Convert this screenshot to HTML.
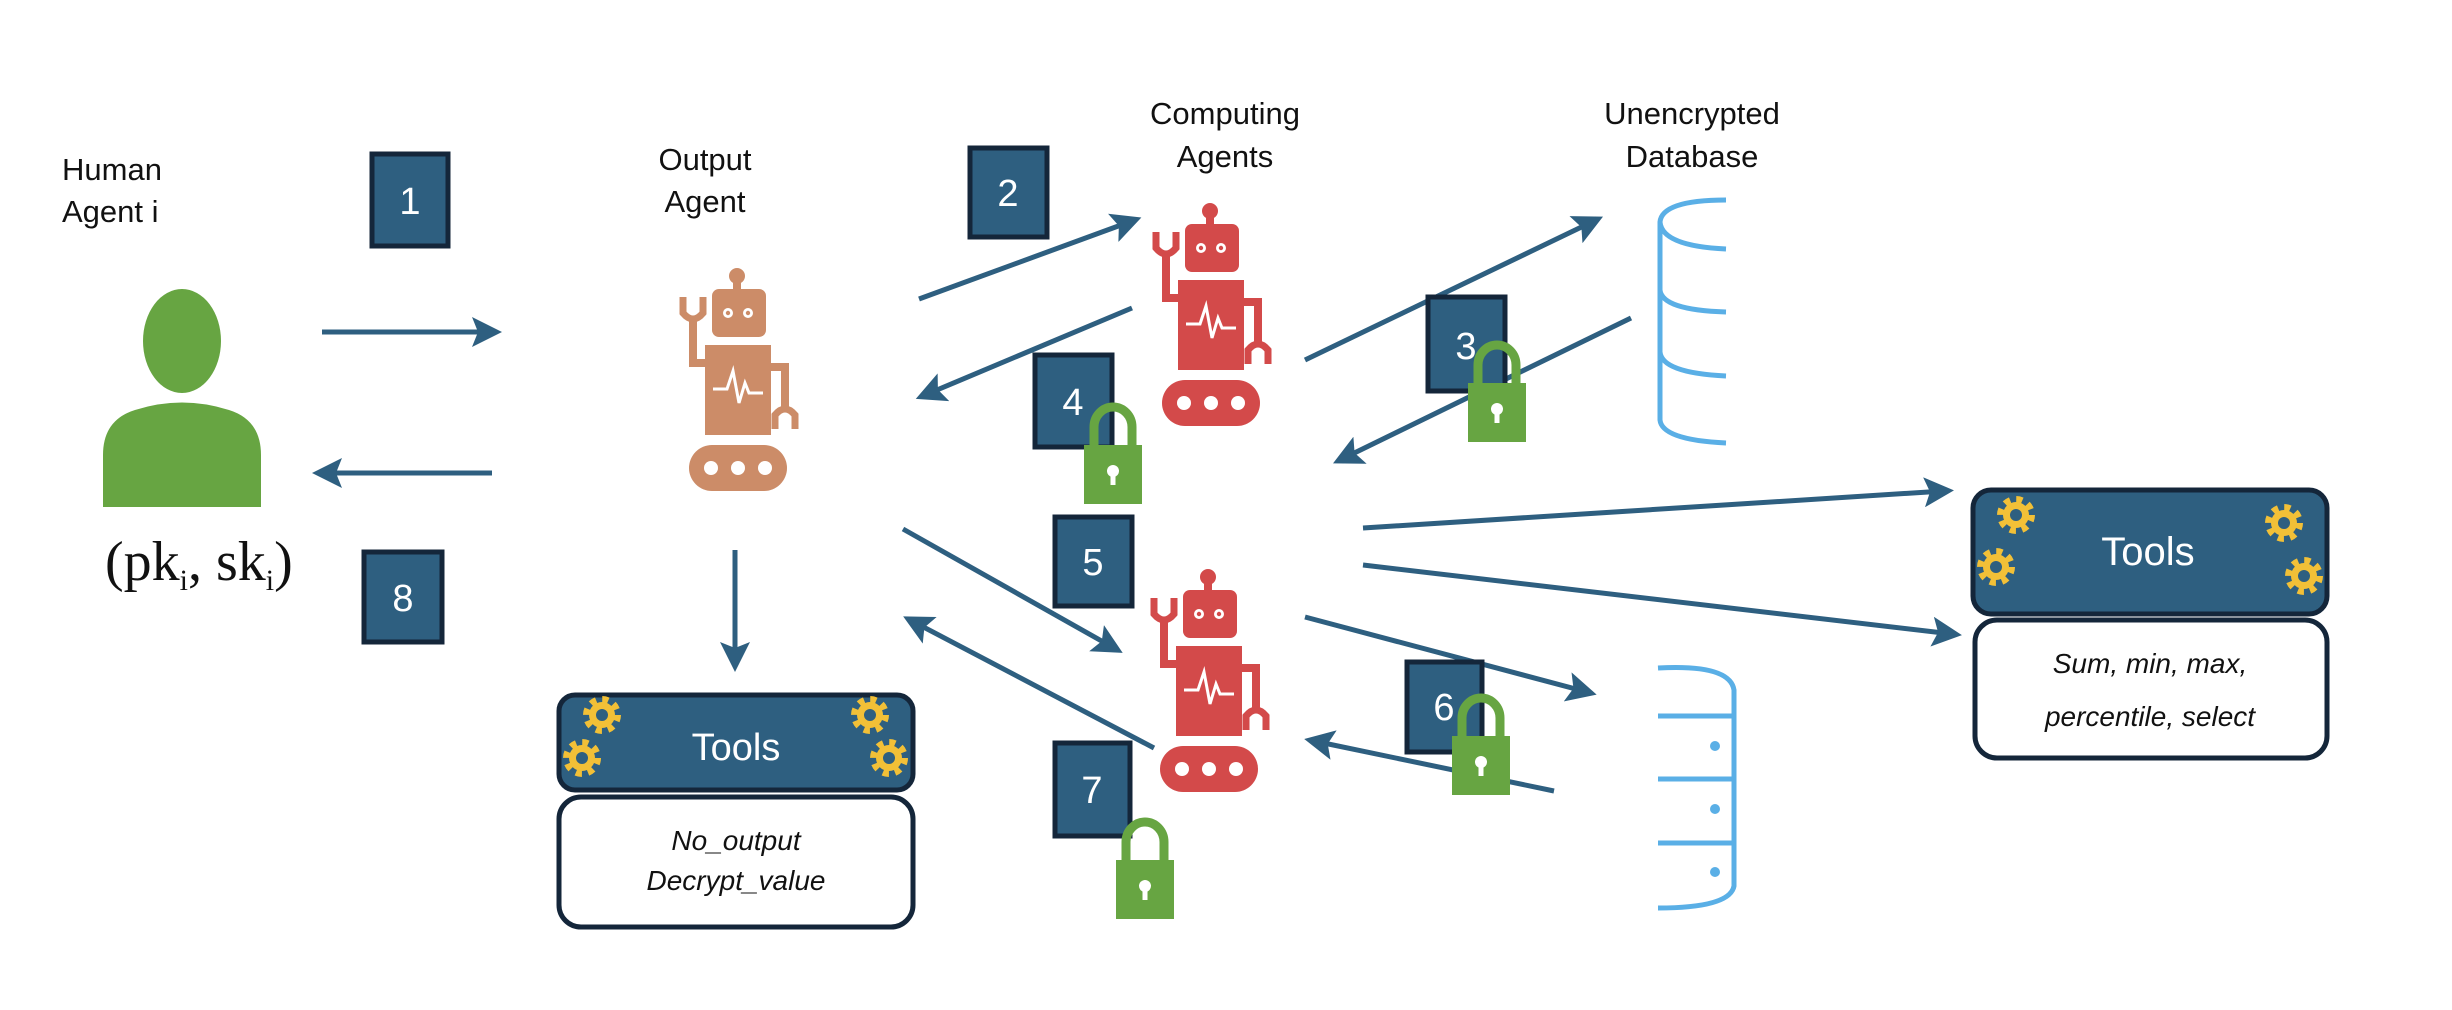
<!DOCTYPE html>
<html><head><meta charset="utf-8"><style>
html,body{margin:0;padding:0;background:#fff;}
svg{display:block;}
text{font-family:"Liberation Sans",sans-serif;}
text.serif{font-family:"Liberation Serif",serif;}
</style></head><body>
<svg width="2452" height="1010" viewBox="0 0 2452 1010" xmlns="http://www.w3.org/2000/svg">
<defs>
<marker id="ah" markerWidth="6" markerHeight="6" refX="4" refY="3" orient="auto" markerUnits="strokeWidth">
<path d="M0,0 L6,3 L0,6 L1.2,3 Z" fill="#2e5f80"/>
</marker>
<g id="robot">
 <circle cx="62" cy="9" r="8"/>
 <rect x="58" y="9" width="8" height="16"/>
 <rect x="37" y="22" width="54" height="48" rx="7"/>
 <circle cx="53" cy="46" r="5" fill="#fff"/><circle cx="53" cy="46" r="2.2"/>
 <circle cx="73" cy="46" r="5" fill="#fff"/><circle cx="73" cy="46" r="2.2"/>
 <rect x="30" y="78" width="66" height="90"/>
 <polyline points="38,122 52,122 58,104 64,136 70,116 74,126 88,126" fill="none" stroke="#fff" stroke-width="3"/>
 <path d="M30,96 L18,96 L18,50" fill="none" stroke="currentColor" stroke-width="8"/>
 <path d="M8,30 L8,46 Q18,58 28,46 L28,30" fill="none" stroke="currentColor" stroke-width="7"/>
 <path d="M96,100 L110,100 L110,140" fill="none" stroke="currentColor" stroke-width="8"/>
 <path d="M100,162 L100,148 Q110,136 120,148 L120,162" fill="none" stroke="currentColor" stroke-width="7"/>
 <rect x="14" y="178" width="98" height="46" rx="23"/>
 <circle cx="36" cy="201" r="7" fill="#fff"/><circle cx="63" cy="201" r="7" fill="#fff"/><circle cx="90" cy="201" r="7" fill="#fff"/>
</g>
<g id="lock">
 <path d="M10,50 L10,28 A19,20 0 0 1 48,28 L48,50" fill="none" stroke="#67a542" stroke-width="9"/>
 <rect x="0" y="46" width="58" height="59" fill="#67a542"/>
 <circle cx="29" cy="72" r="6" fill="#fff"/><rect x="26.5" y="72" width="5" height="14" fill="#fff"/>
</g>
<g id="gear">
 <circle r="15" fill="none" stroke="#f2c037" stroke-width="8" stroke-dasharray="5.9 5.9"/>
 <circle r="13" fill="#f2c037"/>
 <circle r="6" fill="#2e5f80"/>
</g>
</defs>

<!-- Human -->
<text x="62" y="180" font-size="31" fill="#111">Human</text>
<text x="62" y="222" font-size="31" fill="#111">Agent i</text>
<ellipse cx="182" cy="341" rx="39" ry="52" fill="#67a542"/>
<path d="M103,507 L103,455 Q103,420 135,410 Q182,395 229,410 Q261,420 261,455 L261,507 Z" fill="#67a542"/>
<text class="serif" x="105" y="580" font-size="56" fill="#111">(pk<tspan font-size="30" dy="10">i</tspan><tspan dy="-10">, sk</tspan><tspan font-size="30" dy="10">i</tspan><tspan dy="-10">)</tspan></text>

<!-- Output agent -->
<text x="705" y="170" font-size="31" fill="#111" text-anchor="middle">Output</text>
<text x="705" y="212" font-size="31" fill="#111" text-anchor="middle">Agent</text>
<g transform="translate(675,267)" fill="#cc8c68" color="#cc8c68"><use href="#robot"/></g>

<!-- Computing agents -->
<text x="1225" y="124" font-size="31" fill="#111" text-anchor="middle">Computing</text>
<text x="1225" y="167" font-size="31" fill="#111" text-anchor="middle">Agents</text>
<g transform="translate(1148,202)" fill="#d34a4a" color="#d34a4a"><use href="#robot"/></g>
<g transform="translate(1146,568)" fill="#d34a4a" color="#d34a4a"><use href="#robot"/></g>

<!-- Unencrypted DB -->
<text x="1692" y="124" font-size="31" fill="#111" text-anchor="middle">Unencrypted</text>
<text x="1692" y="167" font-size="31" fill="#111" text-anchor="middle">Database</text>
<g fill="none" stroke="#5aafe6" stroke-width="5">
 <path d="M1726,200 Q1662,200 1660,222 Q1662,246 1726,249"/>
 <path d="M1660,222 L1660,420 Q1662,440 1726,443"/>
 <path d="M1660,290 Q1662,310 1726,312"/>
 <path d="M1660,352 Q1662,373 1726,376"/>
</g>
<!-- DB2 -->
<g fill="none" stroke="#5aafe6" stroke-width="5">
 <path d="M1658,668 Q1730,664 1734,690 L1734,886 Q1730,908 1658,908"/>
 <path d="M1658,716 L1734,716"/>
 <path d="M1658,779 L1734,779"/>
 <path d="M1658,843 L1734,843"/>
</g>
<circle cx="1715" cy="746" r="5" fill="#5aafe6"/>
<circle cx="1715" cy="809" r="5" fill="#5aafe6"/>
<circle cx="1715" cy="872" r="5" fill="#5aafe6"/>

<!-- Arrows -->
<g stroke="#2e5f80" stroke-width="5" fill="none" marker-end="url(#ah)">
 <line x1="322" y1="332" x2="492" y2="332"/>
 <line x1="492" y1="473" x2="322" y2="473"/>
 <line x1="735" y1="550" x2="735" y2="662"/>
 <line x1="919" y1="299" x2="1132" y2="221"/>
 <line x1="1132" y1="308" x2="925" y2="395"/>
 <line x1="1305" y1="360" x2="1594" y2="221"/>
 <line x1="1631" y1="318" x2="1342" y2="459"/>
 <line x1="1363" y1="528" x2="1944" y2="491"/>
 <line x1="1363" y1="565" x2="1952" y2="634"/>
 <line x1="903" y1="529" x2="1114" y2="648"/>
 <line x1="1154" y1="748" x2="912" y2="621"/>
 <line x1="1305" y1="617" x2="1587" y2="692"/>
 <line x1="1554" y1="791" x2="1314" y2="741"/>
</g>

<!-- Number boxes -->
<g fill="#2e5f80" stroke="#14263a" stroke-width="5">
 <rect x="372" y="154" width="76" height="92"/>
 <rect x="364" y="552" width="78" height="90"/>
 <rect x="970" y="148" width="77" height="89"/>
 <rect x="1428" y="297" width="77" height="94"/>
 <rect x="1035" y="355" width="77" height="92"/>
 <rect x="1055" y="517" width="77" height="89"/>
 <rect x="1407" y="662" width="75" height="90"/>
 <rect x="1055" y="743" width="75" height="93"/>
</g>
<g fill="#fff" font-size="38" text-anchor="middle">
 <text x="410" y="214">1</text>
 <text x="403" y="611">8</text>
 <text x="1008" y="206">2</text>
 <text x="1466" y="359">3</text>
 <text x="1073" y="415">4</text>
 <text x="1093" y="575">5</text>
 <text x="1444" y="720">6</text>
 <text x="1092" y="803">7</text>
</g>

<!-- Locks -->
<use href="#lock" transform="translate(1468,337)"/>
<use href="#lock" transform="translate(1084,399)"/>
<use href="#lock" transform="translate(1452,690)"/>
<use href="#lock" transform="translate(1116,814)"/>

<!-- Tools left -->
<rect x="559" y="695" width="354" height="95" rx="16" fill="#2e5f80" stroke="#14263a" stroke-width="5"/>
<rect x="559" y="797" width="354" height="130" rx="22" fill="#fff" stroke="#14263a" stroke-width="5"/>
<text x="736" y="760" font-size="38" fill="#fff" text-anchor="middle">Tools</text>
<text x="736" y="850" font-size="28" font-style="italic" fill="#111" text-anchor="middle">No_output</text>
<text x="736" y="890" font-size="28" font-style="italic" fill="#111" text-anchor="middle">Decrypt_value</text>
<use href="#gear" transform="translate(602,715)"/>
<use href="#gear" transform="translate(582,758)"/>
<use href="#gear" transform="translate(870,715)"/>
<use href="#gear" transform="translate(889,758)"/>

<!-- Tools right -->
<rect x="1973" y="490" width="354" height="124" rx="18" fill="#2e5f80" stroke="#14263a" stroke-width="5"/>
<rect x="1975" y="620" width="352" height="138" rx="22" fill="#fff" stroke="#14263a" stroke-width="5"/>
<text x="2148" y="565" font-size="40" fill="#fff" text-anchor="middle">Tools</text>
<text x="2150" y="673" font-size="28" font-style="italic" fill="#111" text-anchor="middle">Sum, min, max,</text>
<text x="2150" y="726" font-size="28" font-style="italic" fill="#111" text-anchor="middle">percentile, select</text>
<use href="#gear" transform="translate(2016,515)"/>
<use href="#gear" transform="translate(1996,567)"/>
<use href="#gear" transform="translate(2284,523)"/>
<use href="#gear" transform="translate(2304,576)"/>
</svg>
</body></html>
